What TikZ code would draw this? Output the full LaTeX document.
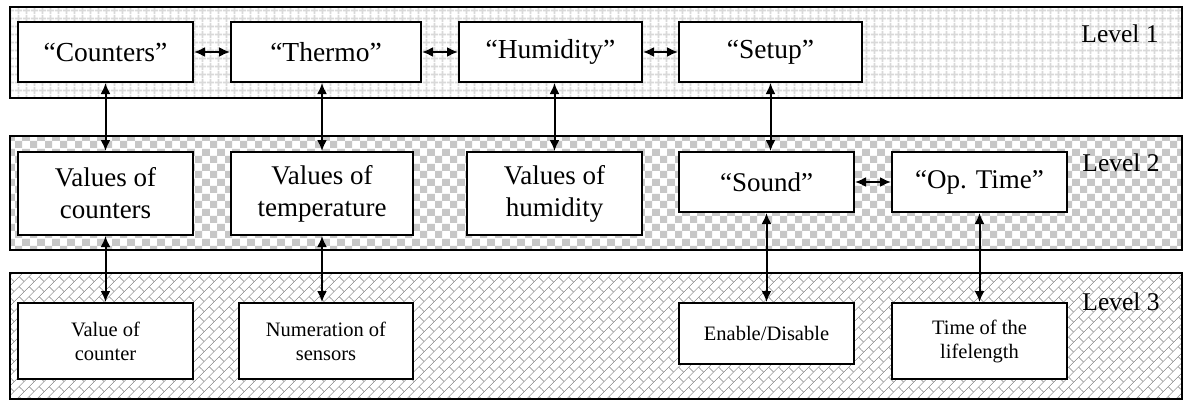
\documentclass[tikz,border=0pt]{standalone}
\usepackage{fontspec}
\setmainfont{Liberation Serif}
\usetikzlibrary{arrows.meta,patterns.meta}

% ===== Fill patterns of the three levels =====
\tikzdeclarepattern{
  name=levelgrid,
  type=uncolored,
  bottom left={(0pt,0pt)},
  top right={(7.5pt,7.5pt)},
  tile size={(7.5pt,7.5pt)},
  code={
    \tikzset{x=1pt,y=1pt}
    \draw[line width=1.8pt] (0,3.75) -- (7.5,3.75);
    \draw[line width=1.8pt] (3.75,0) -- (3.75,7.5);
  }
}
\tikzdeclarepattern{
  name=levelchecker,
  type=colored,
  bottom left={(0pt,0pt)},
  top right={(15pt,15pt)},
  tile size={(15pt,15pt)},
  code={
    \tikzset{x=1pt,y=1pt}
    \fill[black!22] (0,0) rectangle (7.5,7.5);
    \fill[black!22] (7.5,7.5) rectangle (15,15);
  }
}
\tikzdeclarepattern{
  name=levelbricks,
  type=uncolored,
  bottom left={(0pt,0pt)},
  top right={(14pt,14pt)},
  tile size={(14pt,14pt)},
  tile transformation={rotate=45},
  code={
    \tikzset{x=1pt,y=1pt}
    \draw[line width=0.7pt] (0,3.5) -- (14,3.5);
    \draw[line width=0.7pt] (0,10.5) -- (14,10.5);
    \draw[line width=0.7pt] (3.5,3.5) -- (3.5,10.5);
    \draw[line width=0.7pt] (10.5,10.5) -- (10.5,14);
    \draw[line width=0.7pt] (10.5,0) -- (10.5,3.5);
  }
}

\tikzset{
  band/.style={draw, line width=1.6pt, preaction={fill=white}},
  menubox/.style 2 args={draw, fill=white, line width=2pt, inner sep=0pt,
    align=center, minimum width=#1, minimum height=#2},
  topfont/.style={font=\fontsize{27.5}{32}\selectfont},
  midfont/.style={font=\fontsize{27}{32}\selectfont},
  lowfont/.style={font=\fontsize{20.5}{24}\selectfont},
  lvlfont/.style={font=\fontsize{25.5}{30}\selectfont},
  link/.style={{Latex[length=11pt,width=10pt]}-{Latex[length=11pt,width=10pt]}, line width=2pt}
}

\begin{document}
\begin{tikzpicture}[x=1pt,y=-1pt]
\useasboundingbox (0,0) rectangle (1188,402);

% ===== Levels =====
\draw[band, pattern=levelgrid, pattern color=black!15] (10,7) rectangle (1182,98);
\draw[band, pattern=levelchecker] (10,136) rectangle (1182,250);
\draw[band, pattern=levelbricks, pattern color=black!38] (10,273) rectangle (1182,399);

\node[lvlfont] (lvlone) at (1120,34) {Level 1};
\node[lvlfont] (lvltwo) at (1121,163) {Level 2};
\node[lvlfont] (lvlthree) at (1121,302) {Level 3};

% ===== Level 1 =====
\node[menubox={175pt}{60pt}, topfont] (cnt) at (105.5,52) {“Counters”};
\node[menubox={190pt}{60pt}, topfont] (thermo) at (326,52) {“Thermo”};
\node[menubox={183pt}{60pt}, topfont] (humid) at (550.5,52) {“Humidity”};
\node[menubox={183pt}{60pt}, topfont] (setup) at (770.5,52) {“Setup”};

% ===== Level 2 =====
\node[menubox={175pt}{83pt}, midfont] (valc) at (105.5,193.5) {Values of\\counters};
\node[menubox={182pt}{83pt}, midfont] (valt) at (322,193.5) {Values of\\temperature};
\node[menubox={175pt}{83pt}, midfont] (valh) at (554.5,193.5) {Values of\\humidity};
\node[menubox={175pt}{60pt}, midfont] (sound) at (766.5,182) {“Sound”};
\node[menubox={175pt}{60pt}, midfont] (optime) at (979.5,182) {“Op. Time”};

% ===== Level 3 =====
\node[menubox={175pt}{76pt}, lowfont] (valone) at (105.5,341) {Value of\\counter};
\node[menubox={174pt}{76pt}, lowfont] (numer) at (326,341) {Numeration of\\sensors};
\node[menubox={175pt}{61pt}, lowfont] (enable) at (766.5,333.5) {Enable/Disable};
\node[menubox={175pt}{76pt}, lowfont] (lifelen) at (979.5,341) {Time of the\\lifelength};

% ===== Horizontal links =====
\foreach \a/\b in {cnt/thermo, thermo/humid, humid/setup, sound/optime}
  \draw[link] (\a) -- (\b);

% ===== Vertical links =====
\draw[link] (cnt.south -| valc.north) -- (valc.north);
\draw[link] (thermo.south -| valt.north) -- (valt.north);
\draw[link] (humid.south -| valh.north) -- (valh.north);
\draw[link] (setup.south) -- (setup.south |- sound.north);

\draw[link] (valc.south) -- (valc.south |- valone.north);
\draw[link] (valt.south) -- (valt.south |- numer.north);
\draw[link] (sound.south) -- (sound.south |- enable.north);
\draw[link] (optime.south) -- (optime.south |- lifelen.north);

\end{tikzpicture}
\end{document}
